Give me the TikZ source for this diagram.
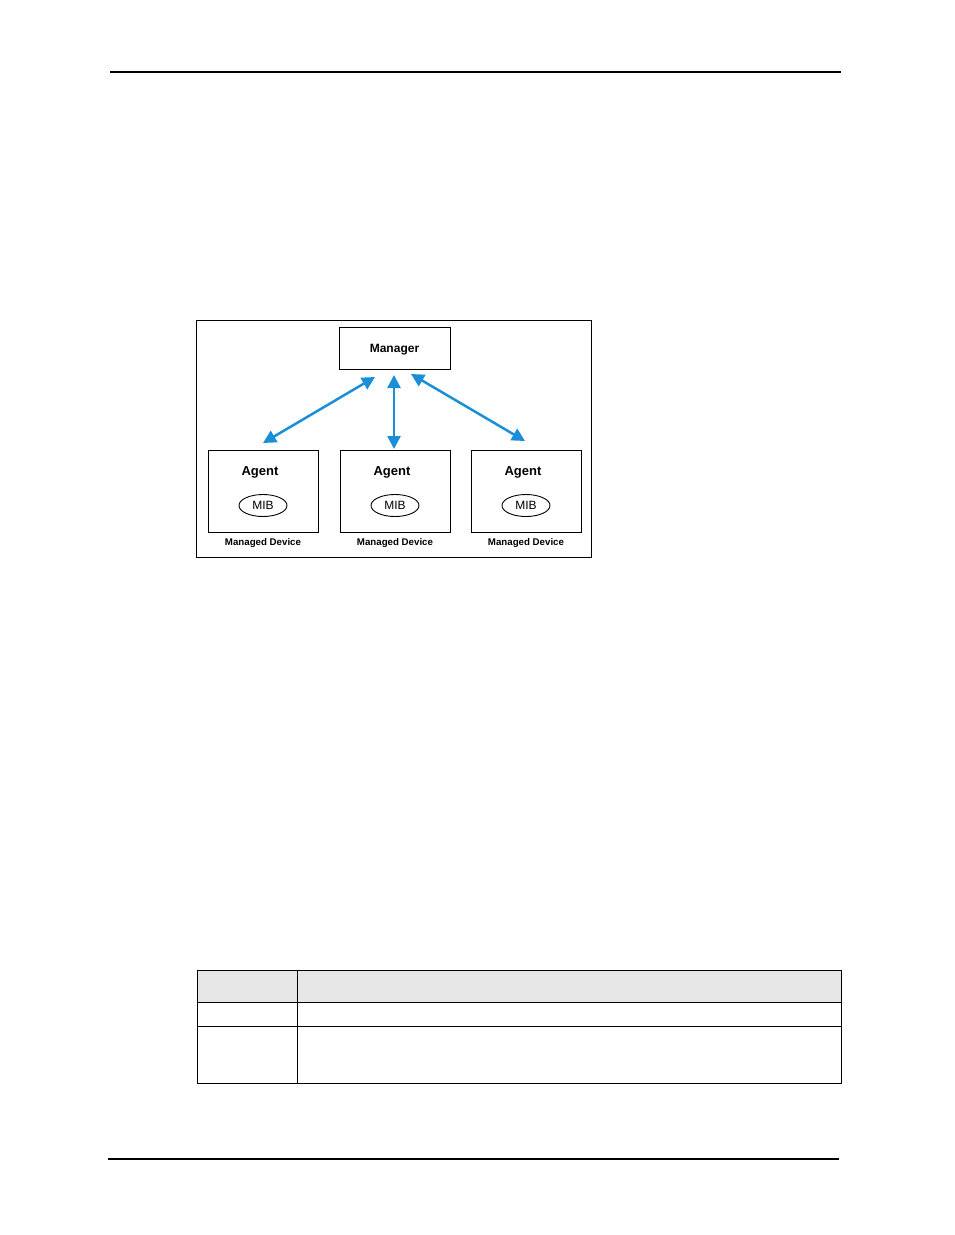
\documentclass[tikz,border=0pt]{standalone}
\usepackage{fontspec}
\setmainfont{Liberation Sans}
\usetikzlibrary{arrows.meta,shapes.geometric}
\definecolor{arrowblue}{HTML}{1A8FD8}
\definecolor{headgray}{HTML}{E6E6E6}
\tikzset{
  devbox/.style={draw, line width=1pt, minimum width=110pt, minimum height=82pt, inner sep=0pt},
  mib/.style={draw, ellipse, line width=0.9pt, minimum width=48pt, minimum height=22pt, inner sep=0pt, font=\fontsize{12}{14}\selectfont},
  agentlbl/.style={font=\bfseries\fontsize{13}{15}\selectfont},
  devlbl/.style={font=\bfseries\fontsize{9.7}{11}\selectfont},
  link/.style={arrowblue, line width=2.5pt, {Triangle[length=13pt,width=13pt]}-{Triangle[length=13pt,width=13pt]}},
  rule/.style={line width=1.2pt},
  tbl/.style={line width=1pt}
}
\begin{document}
\begin{tikzpicture}[x=1pt,y=-1pt]
\useasboundingbox (0,0) rectangle (954,1235);
% page rules
\coordinate (tl) at (110,72); \coordinate (tr) at (841,72);
\coordinate (bl) at (108,1159); \coordinate (br) at (839,1159);
\draw[rule] (tl) -- (tr);
\draw[rule] (bl) -- (br);
% figure frame
\node[draw, line width=0.8pt, minimum width=395pt, minimum height=237pt, inner sep=0pt] (frame) at (393.5,438.5) {};
% manager
\node[draw, line width=1pt, minimum width=111pt, minimum height=42pt, inner sep=0pt] (mgr) at (394.5,348) {};
\node[font=\bfseries\fontsize{12}{14}\selectfont] (mgrlbl) at (394.5,349.5) {Manager};
% devices
\foreach \i/\x in {1/263,2/395,3/526}{
  \node[devbox] (dev\i) at (\x,491) {};
  \node[agentlbl] (ag\i) at (\x-3,472.5) {Agent};
  \node[mib] (mib\i) at (\x,505.5) {MIB};
  \node[devlbl] (dl\i) at (\x,543) {Managed Device};
}
% arrows
\coordinate (a1) at (375,377); \coordinate (b1) at (263,443);
\coordinate (a2) at (394,375); \coordinate (b2) at (394,449);
\coordinate (a3) at (411,374); \coordinate (b3) at (525,441);
\draw[link] (a1) -- (b1);
\draw[link] (a2) -- (b2);
\draw[link] (a3) -- (b3);
% table
\fill[headgray] (197,970) rectangle (841,1002);
\node[tbl, draw, minimum width=644pt, minimum height=113pt, inner sep=0pt] (table) at (519,1026.5) {};
\coordinate (r1l) at (197,1002); \coordinate (r1r) at (841,1002);
\coordinate (r2l) at (197,1026); \coordinate (r2r) at (841,1026);
\coordinate (ct) at (297,970); \coordinate (cb) at (297,1083);
\draw[tbl] (r1l) -- (r1r);
\draw[tbl] (r2l) -- (r2r);
\draw[tbl] (ct) -- (cb);
\end{tikzpicture}
\end{document}
